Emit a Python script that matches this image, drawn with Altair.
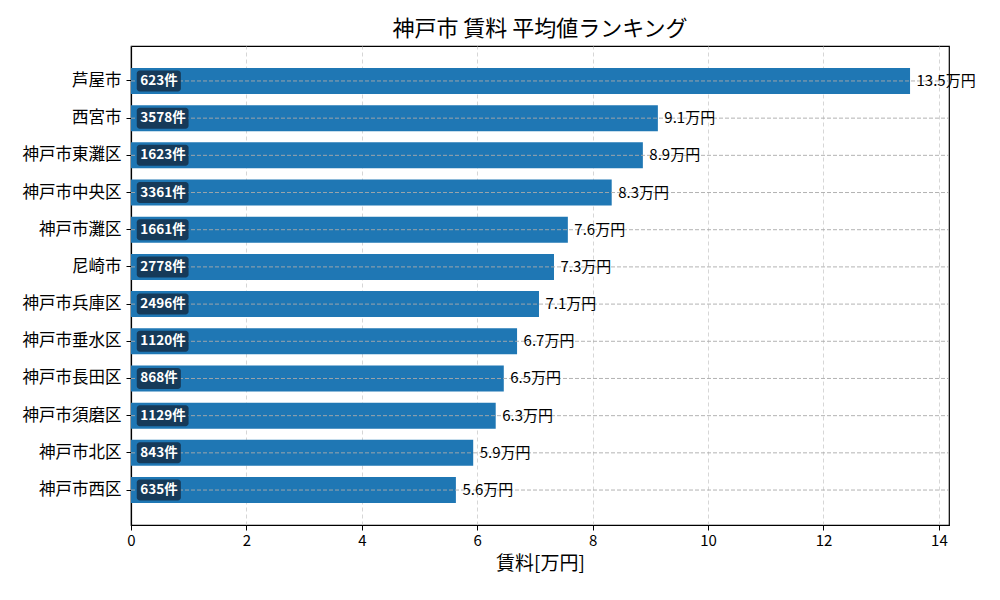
import altair as alt
import pandas as pd

areas = ["芦屋市", "西宮市", "神戸市東灘区", "神戸市中央区", "神戸市灘区", "尼崎市",
         "神戸市兵庫区", "神戸市垂水区", "神戸市長田区", "神戸市須磨区", "神戸市北区", "神戸市西区"]
rent = [13.50, 9.13, 8.87, 8.33, 7.57, 7.33, 7.07, 6.69, 6.46, 6.32, 5.93, 5.63]
counts = [623, 3578, 1623, 3361, 1661, 2778, 2496, 1120, 868, 1129, 843, 635]

W, H = 818, 479
xmax = max(rent) * 1.05
px = W / xmax

df = pd.DataFrame({"area": areas, "rent": rent, "count": counts})
df["vlabel"] = [f"{v:.1f}万円" for v in rent]
df["clabel"] = [f"{c}件" for c in counts]
df["bx"] = 0.1
df["bx2"] = [0.1 + (len(str(c)) * 7.7 + 21) / px for c in counts]

FONT = "Noto Sans CJK JP"
ysc = alt.Scale(domain=areas, paddingInner=0.3, paddingOuter=0.59)
xsc = alt.Scale(domain=[0, xmax], nice=False, zero=True)

base = alt.Chart(df)

bars = base.mark_bar(color="#1f77b4").encode(
    x=alt.X("rent:Q", scale=xsc,
            axis=alt.Axis(title="賃料[万円]", values=list(range(0, 15, 2)), format="d", grid=True,
                          gridColor="#cccccc", gridDash=[4, 3], gridWidth=0.8,
                          labelFontSize=15, titleFontSize=19, titleFontWeight="normal",
                          labelFont=FONT, titleFont=FONT, tickSize=5, tickColor="black",
                          labelColor="black", titleColor="black", labelPadding=3,
                          titlePadding=6, domain=True, domainColor="black", domainWidth=1.2,
                          labelFlush=False)),
    y=alt.Y("area:N", scale=ysc, sort=areas,
            axis=alt.Axis(title=None, labelFontSize=16.5, labelFont=FONT, tickSize=5,
                          tickColor="black", labelColor="black", labelPadding=5,
                          domain=True, domainColor="black", domainWidth=1.2, grid=False)),
)

hgrid = base.mark_rule(color="#aaaaaa", strokeDash=[4, 2], strokeWidth=0.9).encode(
    y=alt.Y("area:N", scale=ysc, sort=areas),
    x=alt.value(0), x2=alt.value("width"),
)

boxes = base.mark_bar(color="#163a59", size=21, cornerRadius=3).encode(
    x=alt.X("bx:Q", scale=xsc), x2="bx2:Q",
    y=alt.Y("area:N", scale=ysc, sort=areas),
)

ctext = base.mark_text(align="left", baseline="middle", dx=3.5, color="white",
                       fontWeight="bold", fontSize=13.5, font=FONT).encode(
    x=alt.X("bx:Q", scale=xsc),
    y=alt.Y("area:N", scale=ysc, sort=areas),
    text="clabel:N",
)

vtext = base.mark_text(align="left", baseline="middle", dx=6.5, color="black",
                       fontSize=15, font=FONT).encode(
    x=alt.X("rent:Q", scale=xsc),
    y=alt.Y("area:N", scale=ysc, sort=areas),
    text="vlabel:N",
)

chart = alt.layer(bars, hgrid, boxes, ctext, vtext).properties(
    width=W, height=H,
    title=alt.TitleParams("神戸市 賃料 平均値ランキング", fontSize=22, font=FONT,
                          fontWeight="normal", color="black", anchor="middle", offset=5),
    autosize=alt.AutoSizeParams(type="none"),
    padding={"left": 123, "top": 38, "right": 43, "bottom": 67},
).configure(background="white").configure_view(stroke="black", strokeWidth=1.2)

chart.save("out.html", embed_options={"renderer": "svg", "actions": False})
